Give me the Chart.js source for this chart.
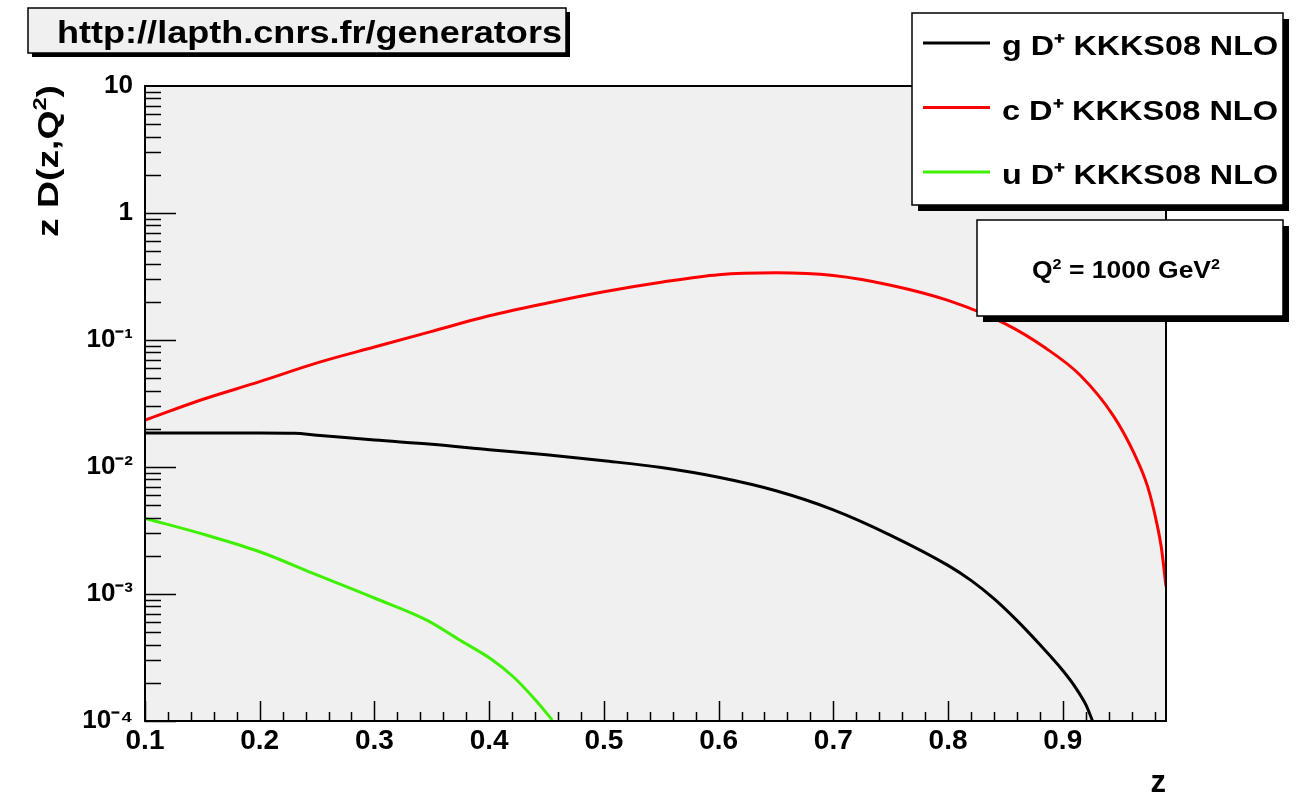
<!DOCTYPE html>
<html>
<head>
<meta charset="utf-8">
<script src="https://cdn.jsdelivr.net/npm/chart.js@4"></script>
<style>
  html, body { margin: 0; padding: 0; background: #fff; }
</style>
</head>
<body>
<canvas id="graficoFF" width="1298" height="796"></canvas>
<script>
// z D(z,Q^2) for D+ at Q^2 = 1000 GeV^2 (KKKS08 NLO)
const gZ   = [0.1, 0.15, 0.2, 0.23, 0.25, 0.3, 0.35, 0.4, 0.45, 0.5, 0.55, 0.6, 0.65, 0.7, 0.75, 0.8, 0.82, 0.84, 0.86, 0.88, 0.9, 0.91, 0.92, 0.926];
const gVal = [0.0185, 0.0185, 0.0185, 0.0184, 0.0178, 0.0163, 0.0151, 0.0137, 0.0125, 0.0112, 0.0099, 0.0083, 0.0065, 0.0046, 0.0029, 0.00168, 0.00128, 0.00092, 0.00062, 0.0004, 0.00025, 0.00019, 0.000135, 0.0001];

const cZ   = [0.1, 0.15, 0.2, 0.25, 0.3, 0.35, 0.4, 0.45, 0.5, 0.55, 0.6, 0.65, 0.7, 0.75, 0.8, 0.85, 0.885, 0.915, 0.944, 0.962, 0.974, 0.982, 0.986, 0.99];
const cVal = [0.0234, 0.034, 0.047, 0.066, 0.088, 0.117, 0.155, 0.195, 0.24, 0.285, 0.327, 0.338, 0.322, 0.27, 0.205, 0.134, 0.0865, 0.053, 0.0254, 0.0129, 0.007, 0.0036, 0.0023, 0.00115];

const uZ   = [0.1, 0.154, 0.2, 0.246, 0.3, 0.346, 0.375, 0.401, 0.421, 0.439, 0.455];
const uVal = [0.00394, 0.0029, 0.00215, 0.00146, 0.00093, 0.00062, 0.00043, 0.00031, 0.000223, 0.000151, 0.000102];

const xTicks = [0.1, 0.2, 0.3, 0.4, 0.5, 0.6, 0.7, 0.8, 0.9];
const yTicks = [1e-4, 1e-3, 1e-2, 1e-1, 1, 10];
const yTickLabels = ['10⁻⁴', '10⁻³', '10⁻²', '10⁻¹', '1', '10'];

const seriesNames = ['g D⁺ KKKS08 NLO', 'c D⁺ KKKS08 NLO', 'u D⁺ KKKS08 NLO'];
const seriesColors = ['#000000', '#ff0000', '#3ff000'];
const siteText = 'http://lapth.cnrs.fr/generators';
// pieces of text with superscripts
const yTitleRuns = [{ t: 'z D(z,Q' }, { t: '2', sup: true }, { t: ')' }];
const scaleRuns = [{ t: 'Q' }, { t: '2', sup: true }, { t: ' = 1000 GeV' }, { t: '2', sup: true }];

Chart.defaults.font.family = '"Liberation Sans", Arial, Helvetica, sans-serif';
Chart.defaults.color = '#000';
const FAM = '"Liberation Sans", Arial, sans-serif';

function pares(zs, vals) {
    return zs.map((z, i) => ({ x: z, y: vals[i] }));
}

// draws runs of text stretched to a given width (ROOT paves stretch their text)
function textoRuns(ctx, runs, x, y, largura, fonte, fonteSup, subida) {
    const ws = runs.map(r => {
        ctx.font = r.sup ? fonteSup : fonte;
        return ctx.measureText(r.t).width;
    });
    const total = ws.reduce((a, b) => a + b, 0);
    ctx.save();
    ctx.translate(x, y);
    ctx.scale(largura / total, 1);
    let cx = 0;
    runs.forEach((r, i) => {
        ctx.font = r.sup ? fonteSup : fonte;
        ctx.fillText(r.t, cx, r.sup ? -subida : 0);
        cx += ws[i];
    });
    ctx.restore();
}

function caixa(ctx, x, y, w, h, fundo, sombra) {
    ctx.fillStyle = '#000';
    ctx.fillRect(x + sombra, y + sombra, w, h);
    ctx.fillStyle = fundo;
    ctx.fillRect(x, y, w, h);
    ctx.lineWidth = 1.5;
    ctx.strokeStyle = '#000';
    ctx.strokeRect(x, y, w, h);
}

const estiloRoot = {
    id: 'estiloRoot',
    beforeDatasetsDraw(chart) {
        const { ctx, chartArea: a } = chart;
        ctx.save();
        ctx.fillStyle = '#f0f0f0';
        ctx.fillRect(a.left, a.top, a.right - a.left, a.bottom - a.top);
        ctx.restore();
    },
    afterDatasetsDraw(chart) {
        const { ctx, chartArea: a } = chart;
        const sx = chart.scales.x, sy = chart.scales.y;
        ctx.save();
        ctx.strokeStyle = '#000';
        ctx.lineWidth = 2;
        ctx.strokeRect(a.left, a.top, a.right - a.left, a.bottom - a.top);

        // ticks pointing inwards, ROOT style
        ctx.lineWidth = 1.5;
        ctx.beginPath();
        for (let i = 0; i <= 44; i++) {
            const v = 0.1 + i * 0.02;
            const px = Math.round(sx.getPixelForValue(v)) + 0.5;
            const len = i % 5 === 0 ? 20 : 9;
            ctx.moveTo(px, a.bottom);
            ctx.lineTo(px, a.bottom - len);
        }
        for (let d = 0; d < yTicks.length - 1; d++) {
            for (let k = 1; k <= 9; k++) {
                const py = Math.round(sy.getPixelForValue(yTicks[d] * k)) + 0.5;
                const len = k === 1 ? 31 : 16;
                ctx.moveTo(a.left, py);
                ctx.lineTo(a.left + len, py);
            }
        }
        ctx.stroke();
        ctx.restore();
    },
    afterDraw(chart) {
        const ctx = chart.ctx;
        const a = chart.chartArea;
        ctx.save();
        ctx.textBaseline = 'alphabetic';
        ctx.textAlign = 'left';
        ctx.fillStyle = '#000';

        // y axis title, rotated, ending at the top of the frame
        ctx.save();
        ctx.translate(58, a.top - 1);
        ctx.rotate(-Math.PI / 2);
        textoRuns(ctx, yTitleRuns, -152, 0, 152, 'bold 30px ' + FAM, 'bold 19px ' + FAM, 12);
        ctx.restore();

        // site label
        caixa(ctx, 28, 8, 538, 45, '#f0f0f0', 4);
        ctx.fillStyle = '#000';
        textoRuns(ctx, [{ t: siteText }], 57, 43, 505, 'bold 32px ' + FAM, '', 0);

        // legend
        caixa(ctx, 912, 13, 371, 192, '#ffffff', 6);
        chart.data.datasets.forEach((ds, i) => {
            const ly = 43 + i * 64.5;
            ctx.strokeStyle = ds.borderColor;
            ctx.lineWidth = 3;
            ctx.beginPath();
            ctx.moveTo(923, ly);
            ctx.lineTo(990, ly);
            ctx.stroke();
            ctx.fillStyle = '#000';
            textoRuns(ctx, [{ t: ds.label }], 1002, ly + 12, 276, 'bold 28px ' + FAM, '', 0);
        });

        // Q^2 box
        caixa(ctx, 977, 220, 306, 96, '#ffffff', 6);
        ctx.fillStyle = '#000';
        textoRuns(ctx, scaleRuns, 1032, 278, 188, 'bold 23px ' + FAM, 'bold 14px ' + FAM, 9);
        ctx.restore();
    }
};

const grafico = new Chart(document.getElementById('graficoFF'), {
    type: 'line',
    data: {
        datasets: [
            { label: seriesNames[0], data: pares(gZ, gVal), borderColor: seriesColors[0] },
            { label: seriesNames[1], data: pares(cZ, cVal), borderColor: seriesColors[1] },
            { label: seriesNames[2], data: pares(uZ, uVal), borderColor: seriesColors[2] }
        ]
    },
    options: {
        responsive: false,
        animation: false,
        devicePixelRatio: 1,
        layout: { padding: { top: 86, right: 132, left: 0, bottom: 0 } },
        elements: {
            point: { radius: 0 },
            line: { borderWidth: 3, cubicInterpolationMode: 'monotone', fill: false }
        },
        plugins: {
            legend: { display: false },
            tooltip: { enabled: false }
        },
        scales: {
            x: {
                type: 'linear',
                min: 0.1,
                max: 0.99,
                afterBuildTicks: s => { s.ticks = xTicks.map(v => ({ value: v })); },
                afterFit: s => { s.height = 75; },
                grid: { display: false, drawTicks: false, tickLength: 0 },
                border: { display: false },
                ticks: {
                    autoSkip: false,
                    maxRotation: 0,
                    padding: 3,
                    font: { size: 28, weight: 'bold' },
                    callback: v => Number(v).toFixed(1)
                },
                title: {
                    display: true,
                    text: 'z',
                    align: 'end',
                    font: { size: 31, weight: 'bold', lineHeight: 0.8 },
                    padding: { top: 0, bottom: 0 }
                }
            },
            y: {
                type: 'logarithmic',
                min: 1e-4,
                max: 10,
                afterBuildTicks: s => { s.ticks = yTicks.map(v => ({ value: v, major: true })); },
                afterFit: s => { s.width = 145; },
                grid: { display: false, drawTicks: false, tickLength: 0 },
                border: { display: false },
                ticks: {
                    autoSkip: false,
                    padding: 12,
                    font: { size: 26, weight: 'bold' },
                    callback: v => {
                        const i = yTicks.findIndex(t => Math.abs(Math.log10(t) - Math.log10(v)) < 1e-6);
                        return i >= 0 ? yTickLabels[i] : '';
                    }
                },
                title: { display: false }
            }
        }
    },
    plugins: [estiloRoot]
});
</script>
</body>
</html>
